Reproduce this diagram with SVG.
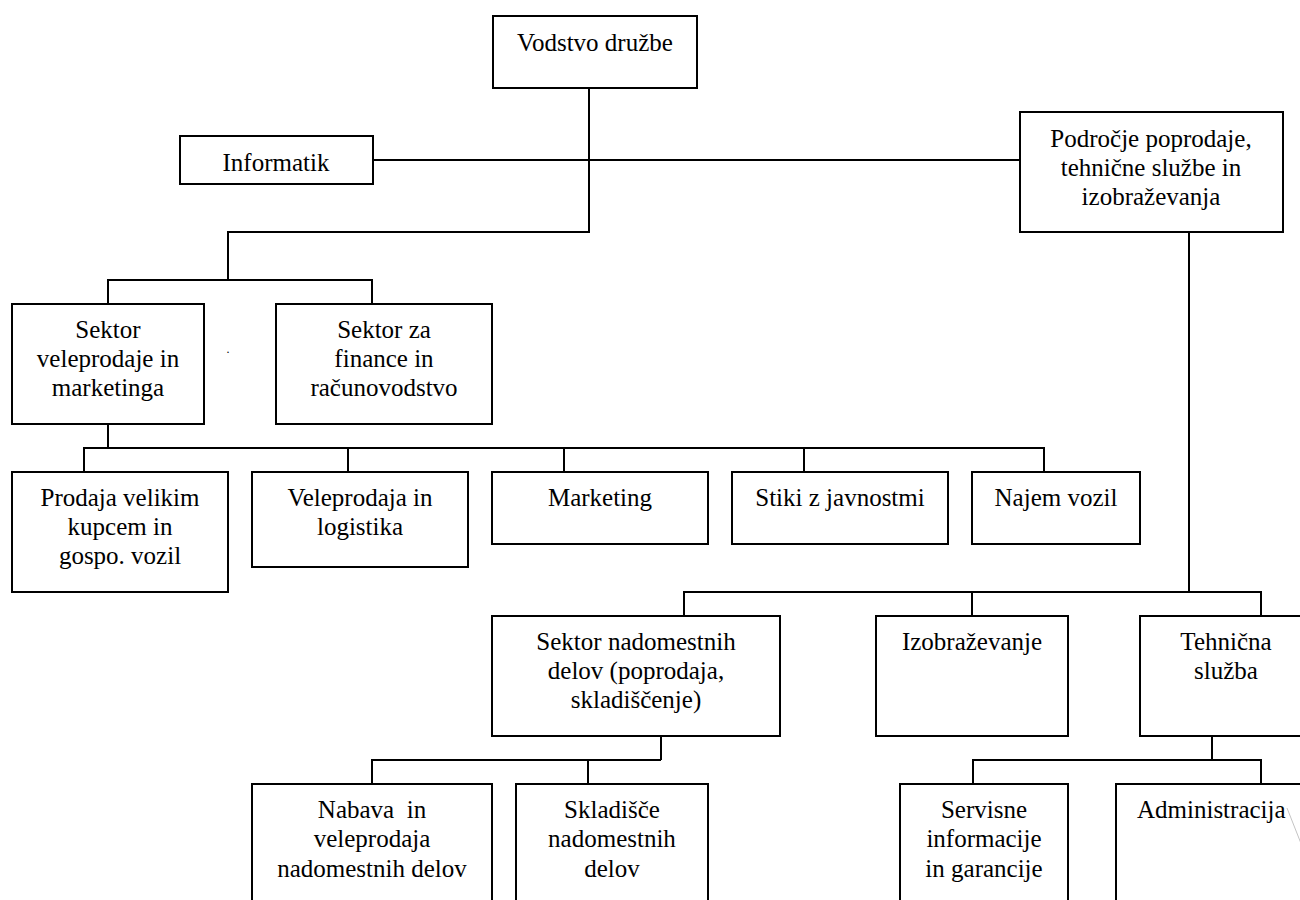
<svg xmlns="http://www.w3.org/2000/svg" width="1300" height="900" viewBox="0 0 1300 900">
  <style>
    .box { fill: #ffffff; stroke: #000000; stroke-width: 2; }
    .lbl { font-family: "Liberation Serif", "Times New Roman", serif; font-size: 25px; fill: #000000; text-anchor: middle; }
    .conn { fill: none; stroke: #000000; stroke-width: 2; }
  </style>
  <rect width="1300" height="900" fill="#ffffff"/>

  <!-- connectors -->
  <g id="connectors" class="conn">
    <path d="M589 88 V232 H228 V280"/>
    <path d="M108 304 V280 H372 V304"/>
    <path d="M373 160 H1020"/>
    <path d="M108 424 V448"/>
    <path d="M84 472 V448 H1044 V472"/>
    <path d="M348 448 V472 M564 448 V472 M804 448 V472"/>
    <path d="M1189 232 V592"/>
    <path d="M684 616 V592 H1261 V616"/>
    <path d="M972 592 V616"/>
    <path d="M661 736 V760"/>
    <path d="M372 784 V760 H661"/>
    <path d="M588 760 V784"/>
    <path d="M1212 736 V760"/>
    <path d="M973 784 V760 H1261 V784"/>
  </g>

  <g id="vodstvo">
    <rect class="box" x="493" y="16" width="204" height="72"/>
    <text class="lbl" x="595" y="51">Vodstvo družbe</text>
  </g>

  <g id="informatik">
    <rect class="box" x="180" y="136" width="193" height="48"/>
    <text class="lbl" x="276" y="171">Informatik</text>
  </g>

  <g id="podrocje">
    <rect class="box" x="1020" y="112" width="263" height="120"/>
    <text class="lbl" x="1151" y="147">Področje poprodaje,</text>
    <text class="lbl" x="1151" y="176">tehnične službe in</text>
    <text class="lbl" x="1151" y="205">izobraževanja</text>
  </g>

  <g id="sektor-veleprodaje">
    <rect class="box" x="12" y="304" width="192" height="120"/>
    <text class="lbl" x="108" y="338">Sektor</text>
    <text class="lbl" x="108" y="367">veleprodaje in</text>
    <text class="lbl" x="108" y="396">marketinga</text>
  </g>

  <text id="dot" x="228" y="353" font-family="Liberation Serif, serif" font-size="12" text-anchor="middle">.</text>

  <g id="sektor-finance">
    <rect class="box" x="276" y="304" width="216" height="120"/>
    <text class="lbl" x="384" y="338">Sektor za</text>
    <text class="lbl" x="384" y="367">finance in</text>
    <text class="lbl" x="384" y="396">računovodstvo</text>
  </g>

  <g id="prodaja">
    <rect class="box" x="12" y="472" width="216" height="120"/>
    <text class="lbl" x="120" y="506">Prodaja velikim</text>
    <text class="lbl" x="120" y="535">kupcem in</text>
    <text class="lbl" x="120" y="564">gospo. vozil</text>
  </g>

  <g id="veleprodaja">
    <rect class="box" x="252" y="472" width="216" height="95"/>
    <text class="lbl" x="360" y="506">Veleprodaja in</text>
    <text class="lbl" x="360" y="535">logistika</text>
  </g>

  <g id="marketing">
    <rect class="box" x="492" y="472" width="216" height="72"/>
    <text class="lbl" x="600" y="506">Marketing</text>
  </g>

  <g id="stiki">
    <rect class="box" x="732" y="472" width="216" height="72"/>
    <text class="lbl" x="840" y="506">Stiki z javnostmi</text>
  </g>

  <g id="najem">
    <rect class="box" x="972" y="472" width="168" height="72"/>
    <text class="lbl" x="1056" y="506">Najem vozil</text>
  </g>

  <g id="sektor-nadomestnih">
    <rect class="box" x="492" y="616" width="288" height="120"/>
    <text class="lbl" x="636" y="650">Sektor nadomestnih</text>
    <text class="lbl" x="636" y="679">delov (poprodaja,</text>
    <text class="lbl" x="636" y="708">skladiščenje)</text>
  </g>

  <g id="izobrazevanje">
    <rect class="box" x="876" y="616" width="192" height="120"/>
    <text class="lbl" x="972" y="650">Izobraževanje</text>
  </g>

  <g id="tehnicna">
    <rect class="box" x="1140" y="616" width="172" height="120"/>
    <text class="lbl" x="1226" y="650">Tehnična</text>
    <text class="lbl" x="1226" y="679">služba</text>
  </g>

  <g id="nabava">
    <rect class="box" x="252" y="784" width="240" height="140"/>
    <text class="lbl" x="372" y="818" style="white-space:pre">Nabava  in</text>
    <text class="lbl" x="372" y="847">veleprodaja</text>
    <text class="lbl" x="372" y="877">nadomestnih delov</text>
  </g>

  <g id="skladisce">
    <rect class="box" x="516" y="784" width="192" height="140"/>
    <text class="lbl" x="612" y="818">Skladišče</text>
    <text class="lbl" x="612" y="847">nadomestnih</text>
    <text class="lbl" x="612" y="877">delov</text>
  </g>

  <g id="servisne">
    <rect class="box" x="900" y="784" width="168" height="140"/>
    <text class="lbl" x="984" y="818">Servisne</text>
    <text class="lbl" x="984" y="847">informacije</text>
    <text class="lbl" x="984" y="877">in garancije</text>
  </g>

  <g id="administracija">
    <rect class="box" x="1116" y="784" width="220" height="140"/>
    <text class="lbl" x="1137" y="818" style="text-anchor:start">Administracija</text>
  </g>

  <line x1="1287" y1="808" x2="1302" y2="846" stroke="#c4c4c4" stroke-width="1"/>
</svg>
